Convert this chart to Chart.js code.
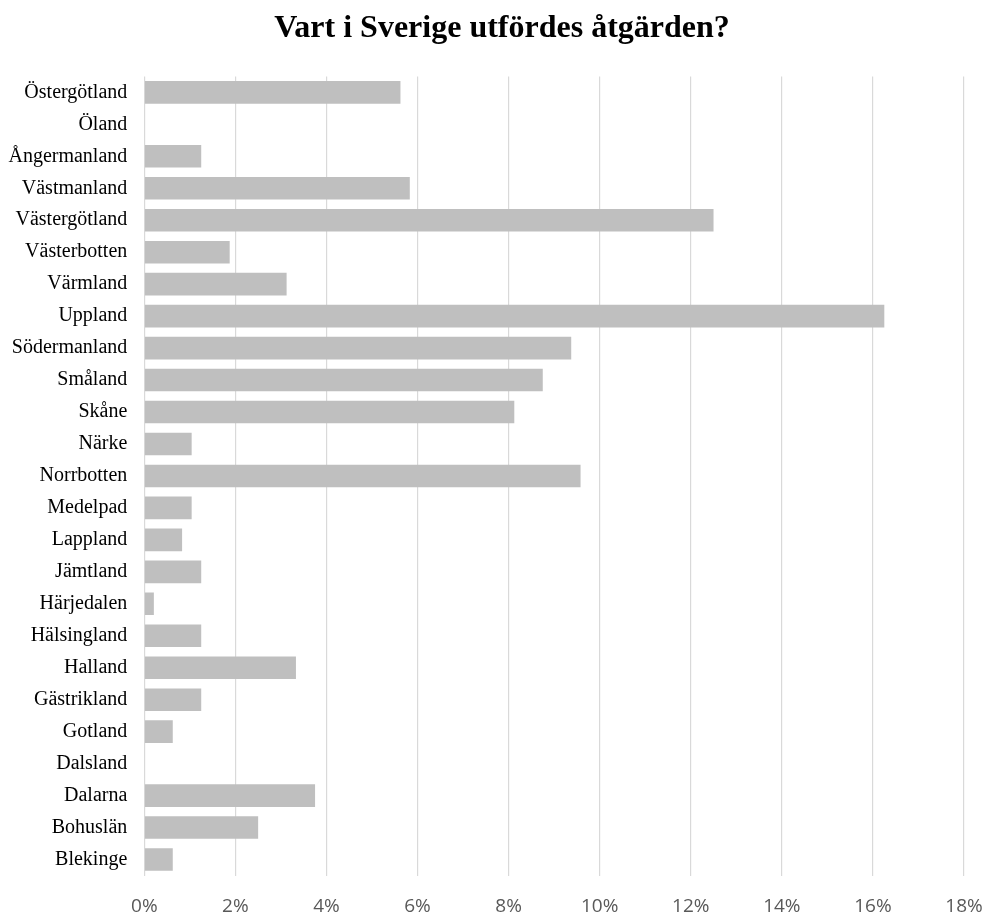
<!DOCTYPE html>
<html>
<head>
<meta charset="utf-8">
<script src="https://cdn.jsdelivr.net/npm/chart.js@4"></script>
<style>
  body { margin: 0; background: #fff; }
</style>
</head>
<body>
<canvas id="chart" width="989" height="920"></canvas>
<script>
const TITLE = "Vart i Sverige utfördes åtgärden?";

const regions = [
  "Östergötland", "Öland", "Ångermanland", "Västmanland", "Västergötland",
  "Västerbotten", "Värmland", "Uppland", "Södermanland", "Småland",
  "Skåne", "Närke", "Norrbotten", "Medelpad", "Lappland",
  "Jämtland", "Härjedalen", "Hälsingland", "Halland", "Gästrikland",
  "Gotland", "Dalsland", "Dalarna", "Bohuslän", "Blekinge"
];

// andel i procent
const shares = [
  5.625, 0, 1.25, 5.83, 12.5,
  1.875, 3.125, 16.25, 9.375, 8.75,
  8.125, 1.04, 9.58, 1.04, 0.83,
  1.25, 0.21, 1.25, 3.33, 1.25,
  0.625, 0, 3.75, 2.5, 0.625
];

const X_MAX = 18;
const X_STEP = 2;

const ctx = document.getElementById("chart").getContext("2d");

new Chart(ctx, {
  type: "bar",
  data: {
    labels: regions,
    datasets: [
      {
        data: shares,
        backgroundColor: "#bfbfbf",
        borderWidth: 0,
        categoryPercentage: 1,
        barPercentage: 0.707,
      },
    ],
  },
  options: {
    indexAxis: "y",
    responsive: false,
    animation: false,
    layout: {
      // titeln står lite till höger om mitten, därav negativ höger-padding
      padding: { left: 8, right: -7, top: 0, bottom: 0 },
    },
    plugins: {
      legend: { display: false },
      tooltip: { enabled: false },
      title: {
        display: true,
        text: TITLE,
        color: "#000",
        font: { family: "'Liberation Serif', 'Times New Roman', serif", size: 32, weight: "bold", lineHeight: 1.2 },
        padding: { top: 10, bottom: 28 },
      },
    },
    scales: {
      x: {
        min: 0,
        max: X_MAX,
        afterFit: (axis) => {
          // chart.js reserverar padding två gånger, sätt höjden själv
          axis.height = 44.5;
          axis.paddingLeft = 0;
          axis.paddingRight = 25;
        },
        ticks: {
          stepSize: X_STEP,
          padding: 19.5,
          color: "#595959",
          font: { family: "'Open Sans', sans-serif", size: 19, lineHeight: 1.2 },
          callback: (v) => v + "%",
        },
        grid: {
          color: "#d9d9d9",
          lineWidth: 1.2,
          drawTicks: false,
          tickLength: 0,
        },
        border: { display: false },
      },
      y: {
        afterFit: (axis) => {
          axis.width = 136.3;
        },
        ticks: {
          padding: 17,
          color: "#000",
          font: { family: "'Liberation Serif', 'Times New Roman', serif", size: 20 },
        },
        grid: { display: false, drawTicks: false, tickLength: 0 },
        border: { display: false },
      },
    },
  },
});
</script>
</body>
</html>
